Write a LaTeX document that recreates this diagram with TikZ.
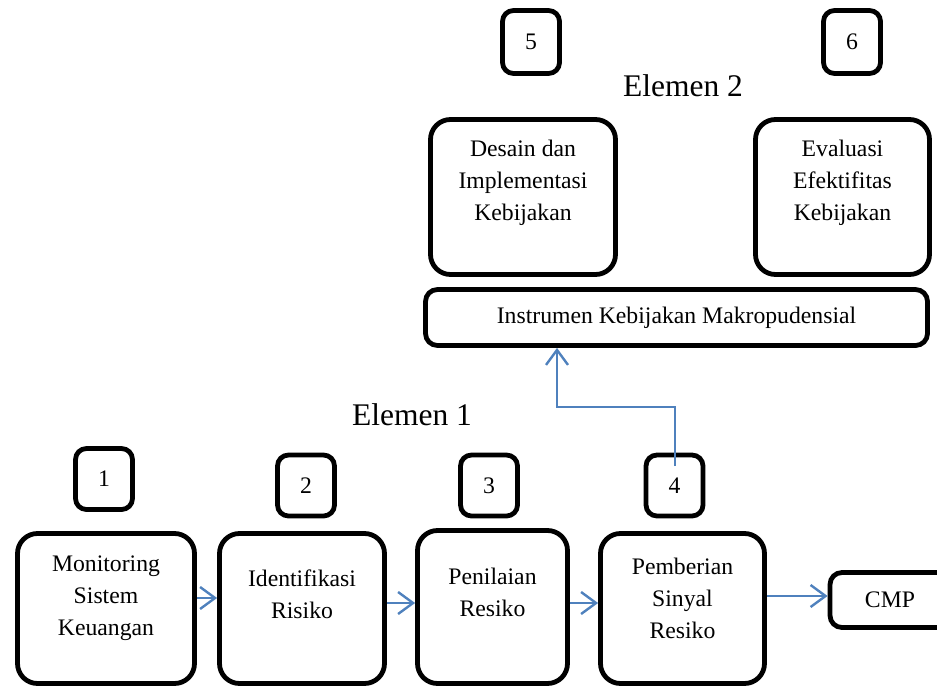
\documentclass[tikz,border=0pt]{standalone}
\usepackage{fontspec}
\setmainfont{Liberation Serif}
\usetikzlibrary{arrows.meta}
\definecolor{arrowblue}{HTML}{4F81BD}
\begin{document}
\begin{tikzpicture}[x=1pt,y=-1pt,
  box/.style={draw=black, line width=4.8pt, rounded corners=20pt, inner sep=0pt},
  numbox/.style={draw=black, line width=4.8pt, rounded corners=11pt, minimum width=57pt, minimum height=61pt, inner sep=0pt, font=\fontsize{23.7}{32}\selectfont},
  txt/.style={align=center, font=\fontsize{23.7}{32}\selectfont, inner sep=0pt},
  titletxt/.style={font=\fontsize{31.5}{38}\selectfont, inner sep=0pt, anchor=base},
  conn/.style={draw=arrowblue, line width=2.4pt, -{Straight Barb[length=15pt,width=22pt]}}
]
\useasboundingbox (0,0) rectangle (937,688);

% bottom row boxes
\node[box, minimum width=177pt, minimum height=150pt] (A) at (106,608.5) {};
\node[box, minimum width=165pt, minimum height=150pt] (B) at (302,608.5) {};
\node[box, minimum width=150pt, minimum height=153pt] (C) at (492.5,607) {};
\node[box, minimum width=164pt, minimum height=150pt] (D) at (682.5,608.5) {};
\node[box, rounded corners=12pt, minimum width=120pt, minimum height=55pt, font=\fontsize{23.7}{32}\selectfont] (CMP) at (890,600) {CMP\hspace{20pt}};

\node[txt] (At) at (106,598) {Monitoring\\Sistem\\Keuangan};
\node[txt] (Bt) at (302,594) {Identifikasi\\Risiko};
\node[txt] (Ct) at (492.5,592) {Penilaian\\Resiko};
\node[txt] (Dt) at (682.5,598) {Pemberian\\Sinyal\\Resiko};

% number boxes
\node[numbox] (n1) at (104,479) {1};
\node[numbox] (n2) at (306,485.5) {2};
\node[numbox] (n3) at (489,485.5) {3};
\node[numbox] (n4) at (674.5,485.5) {4};
\node[numbox, minimum height=63pt] (n5) at (531,42) {5};
\node[numbox, minimum height=63pt] (n6) at (852,42) {6};

% titles
\node[titletxt] (e1) at (412,425) {Elemen 1};
\node[titletxt] (e2) at (683,96.5) {Elemen 2};

% top boxes
\node[box, minimum width=185pt, minimum height=155pt] (P) at (523,197) {};
\node[box, minimum width=174pt, minimum height=155pt] (Q) at (842.5,197) {};
\node[txt] (Pt) at (523,183) {Desain dan\\Implementasi\\Kebijakan};
\node[txt] (Qt) at (842.5,183) {Evaluasi\\Efektifitas\\Kebijakan};
\node[box, rounded corners=12pt, minimum width=502pt, minimum height=56pt, font=\fontsize{23.7}{32}\selectfont] (I) at (676.5,317.5) {Instrumen Kebijakan Makropudensial};

% connectors
\coordinate (yab) at (0,598);
\coordinate (ybc) at (0,603);
\coordinate (ycd) at (0,603);
\coordinate (yde) at (0,596);
\draw[conn] (A.east |- yab) -- (B.west |- yab);
\draw[conn] (B.east |- ybc) -- (C.west |- ybc);
\draw[conn] (C.east |- ycd) -- (D.west |- ycd);
\draw[conn] (D.east |- yde) -- (CMP.west |- yde);

\coordinate (s4) at (675,466);
\coordinate (bend) at (557,407);
\draw[conn] (s4) |- (bend) -- (bend |- I.south);
\end{tikzpicture}
\end{document}
